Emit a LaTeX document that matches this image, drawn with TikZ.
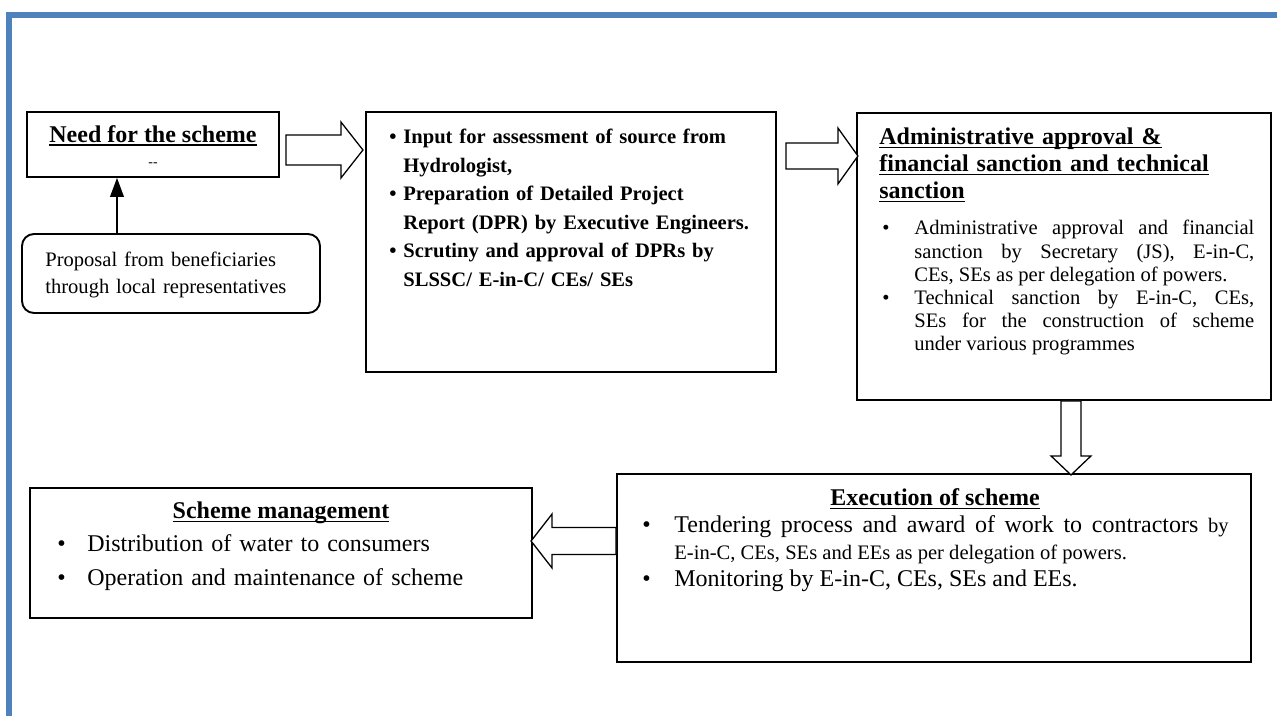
\documentclass[tikz,border=0pt]{standalone}
\usepackage{fontspec}
\setmainfont{Liberation Serif}
\usetikzlibrary{arrows.meta,calc,fit}

\definecolor{framebar}{HTML}{4F81BD}

% bullet item with hanging indent
\newcommand{\bul}[2]{\noindent\hangindent=#1\hangafter=1%
  \makebox[#1][l]{\textbullet}\ignorespaces#2\par}
% underline at a fixed depth, as a word processor does
\newcommand{\undl}[1]{\leavevmode\setbox0=\hbox{#1}\rlap{\rule[-1.8pt]{\wd0}{0.8pt}}\box0}

\tikzset{
  hollow/.style={draw, fill=white, line width=0.75pt, line join=miter},
  pics/hollowarrow/.style args={#1/#2/#3/#4}{code={
      \draw[hollow] (0,-#2) -- (#1-#4,-#2) -- (#1-#4,-#3) -- (#1,0)
          -- (#1-#4,#3) -- (#1-#4,#2) -- (0,#2) -- cycle;}}
}

\begin{document}
\begin{tikzpicture}[x=0.58333pt, y=-0.58333pt,
    box/.style={draw, line width=1.1pt, inner sep=0pt},
    txt/.style={inner sep=0pt, anchor=base west}]
    \useasboundingbox (0,0) rectangle (1277,716);

    % page frame
    \fill[framebar] (6,12) rectangle (1277,18);
    \fill[framebar] (6,12) rectangle (12,716);

    % boxes
    \node[box, fit={(27,112) (279,177)}] (need) {};
    \node[box, rounded corners=7pt, fit={(22,234) (320,313)}] (prop) {};
    \node[box, fit={(366,112) (776,372)}] (dpr) {};
    \node[box, fit={(857,113) (1271,400)}] (adm) {};
    \node[box, fit={(617,474) (1251,662)}] (exe) {};
    \node[box, fit={(30,488) (532,618)}] (mgmt) {};

    % need for the scheme
    \node[anchor=base, font=\fontsize{14}{16}\selectfont\bfseries] (needt)
        at (153,142.5) {\undl{Need for the scheme}};
    \node[anchor=base, font=\fontsize{8}{9}\selectfont] (needd)
        at (153,166.5) {\mbox{-}\mbox{-}};

    % proposal
    \node[txt, text width=170pt, align=left,
        font=\fontsize{12}{15.2}\selectfont] (propt) at (45,267)
        {Proposal from beneficiaries\\through local representatives};
    \draw[line width=0.8pt, -{Triangle[length=11pt, width=8pt]}]
        (117,0 |- prop.north) -- (117,0 |- need.south);

    % DPR
    \node[txt, text width=220pt, align=left,
        font=\fontsize{12}{16.6}\selectfont\bfseries] (dprt) at (389,144) {%
        \bul{8.2pt}{Input for assessment of source from\newline Hydrologist,}
        \bul{8.2pt}{Preparation of Detailed Project\newline Report (DPR) by Executive Engineers.}
        \bul{8.2pt}{Scrutiny and approval of DPRs by\newline SLSSC/ E-in-C/ CEs/ SEs}};

    % approval and sanction
    \node[txt, text width=240pt, align=left,
        font=\fontsize{14}{15.75}\selectfont\bfseries] (admt) at (879,145)
        {\undl{Administrative approval \&}\\\undl{financial sanction and technical}\\\undl{sanction}};
    \node[txt, text width=217pt, align=justify,
        font=\fontsize{12}{13.42}\selectfont] (admb) at (882,235) {%
        \bul{18.7pt}{Administrative approval and financial\linebreak
            sanction by Secretary (JS), E-in-C,\linebreak
            CEs, SEs as per delegation of powers.}
        \bul{18.7pt}{Technical sanction by E-in-C, CEs,\linebreak
            SEs for the construction of scheme\linebreak
            under various programmes}};

    % execution
    \node[anchor=base, font=\fontsize{14}{16}\selectfont\bfseries] (exet)
        at (935,506) {\undl{Execution of scheme}};
    \node[txt, text width=342pt, align=justify,
        font=\fontsize{14}{15.5}\selectfont] (exeb) at (642,533) {%
        \bul{18.7pt}{Tendering process and award of work to contractors
            {\fontsize{12}{15.5}\selectfont by}\linebreak
            {\fontsize{12}{15.5}\selectfont E-in-C, CEs, SEs and EEs as per delegation of powers.}}
        \bul{18.7pt}{Monitoring by E-in-C, CEs, SEs and EEs.}};

    % scheme management
    \node[anchor=base, font=\fontsize{14}{16}\selectfont\bfseries] (mgmtt)
        at (281,519) {\undl{Scheme management}};
    \node[txt, text width=270pt, align=left,
        font=\fontsize{14}{19.8}\selectfont] (mgmtb) at (57,552) {%
        \bul{17.5pt}{Distribution of water to consumers}
        \bul{17.5pt}{Operation and maintenance of scheme}};

    % block arrows between the stages
    \pic at ($(need.east |- 0,150)+(6,0)$) {hollowarrow=77/15/28/22};
    \pic at ($(dpr.east |- 0,156)+(9,0)$) {hollowarrow=72/13/28/20};
    \pic[rotate=-90] at (1071,0 |- adm.south) {hollowarrow=74/10/20/19};
    \pic[rotate=180] at (exe.west |- 0,541) {hollowarrow=85/13.5/27/21};
\end{tikzpicture}
\end{document}
